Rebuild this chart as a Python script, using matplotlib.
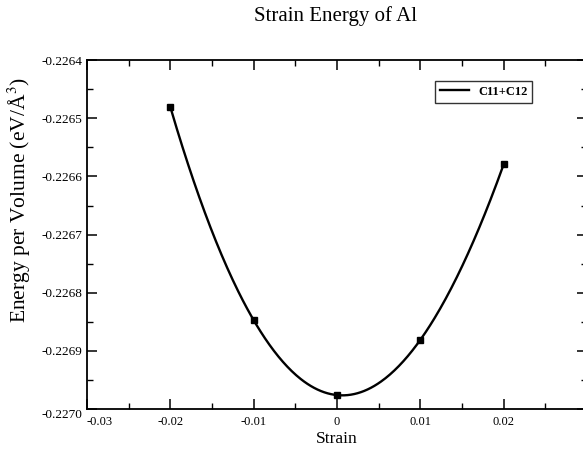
import numpy as np
import matplotlib
matplotlib.use("Agg")
import matplotlib.pyplot as plt
from matplotlib.ticker import MultipleLocator, FixedLocator

strain = [-0.02, -0.01, 0.0, 0.01, 0.02]
energy = [-0.22648, -0.226847, -0.226976, -0.226881, -0.226579]
series_label = "C11+C12"
xticks = [-0.03, -0.02, -0.01, 0.0, 0.01, 0.02]
xticklabels = ["-0.03", "-0.02", "-0.01", "0", "0.01", "0.02"]
yticks = [-0.2270, -0.2269, -0.2268, -0.2267, -0.2266, -0.2265, -0.2264]
yticklabels = ["-0.2270", "-0.2269", "-0.2268", "-0.2267", "-0.2266", "-0.2265", "-0.2264"]

plt.rcParams['font.family'] = ['Liberation Serif', 'DejaVu Serif']
plt.rcParams['mathtext.fontset'] = 'stix'

fig = plt.figure(figsize=(5.83, 4.49), dpi=100)
ax = fig.add_axes([0.149, 0.089, 0.858, 0.777])

# smooth curve through the data points
coef = np.polyfit(strain, energy, 4)
xs = np.linspace(min(strain), max(strain), 300)
ax.plot(xs, np.polyval(coef, xs), color='black', lw=1.7, label=series_label)
ax.plot(strain, energy, ls='none', marker='s', ms=5, color='black')

ax.set_xlim(-0.03, 0.03)
ax.set_ylim(-0.2270, -0.2264)
ax.xaxis.set_major_locator(FixedLocator(xticks))
ax.set_xticklabels(xticklabels, fontsize=9)
ax.xaxis.set_minor_locator(MultipleLocator(0.005))
ax.yaxis.set_major_locator(FixedLocator(yticks))
ax.set_yticklabels(yticklabels, fontsize=9.5)
ax.yaxis.set_minor_locator(MultipleLocator(0.00005))

ax.tick_params(which='both', direction='in', top=True, right=True)
ax.tick_params(axis='x', which='major', pad=5)
ax.tick_params(axis='y', which='major', pad=3)
ax.tick_params(which='major', length=7, width=1.1)
ax.tick_params(which='minor', length=4, width=1.0)
for s in ax.spines.values():
    s.set_linewidth(1.3)

# nudge the corner labels apart as in the original
xl = ax.get_xticklabels()
xl[0].set_horizontalalignment('left')
yl = ax.get_yticklabels()
yl[0].set_verticalalignment('top')

ax.set_xlabel("Strain", fontsize=12.5, labelpad=2)
ax.set_ylabel("Energy per Volume (eV/Å$^3$)", fontsize=15.5)
ax.yaxis.set_label_coords(-0.108, 0.60)
fig.text(0.575, 0.965, "Strain Energy of Al", ha='center', va='center', fontsize=15)

leg = ax.legend(loc='upper right', bbox_to_anchor=(0.913, 0.820), bbox_transform=fig.transFigure,
                fontsize=9, frameon=True, fancybox=False, handlelength=2.3,
                borderpad=0.4, handletextpad=0.7, borderaxespad=0)
leg.get_frame().set_edgecolor('black')
leg.get_frame().set_linewidth(1.0)
for t in leg.get_texts():
    t.set_fontweight('bold')

fig.savefig("out.png", dpi=100)
